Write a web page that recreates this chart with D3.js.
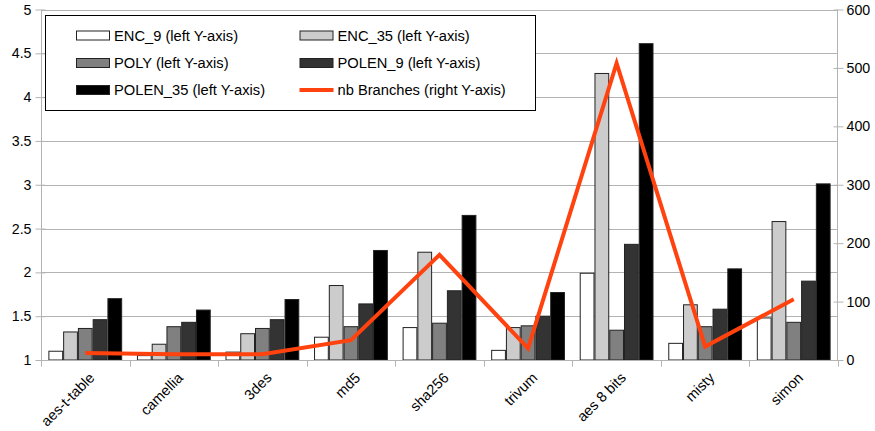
<!DOCTYPE html>
<html>
<head>
<meta charset="utf-8">
<script src="https://cdn.jsdelivr.net/npm/d3@7/dist/d3.min.js"></script>
<style>
  html, body { margin: 0; padding: 0; background: #fff; }
  svg { display: block; font-family: "Liberation Sans", Arial, sans-serif; }
</style>
</head>
<body>
<svg id="chart" width="875" height="431"></svg>
<script>
const categories = ["aes-t-table", "camellia", "3des", "md5", "sha256", "trivum", "aes 8 bits", "misty", "simon"];
const seriesNames = ["ENC_9 (left Y-axis)", "ENC_35 (left Y-axis)", "POLY (left Y-axis)", "POLEN_9 (left Y-axis)", "POLEN_35 (left Y-axis)"];
const enc9    = [1.10, 1.05, 1.09, 1.26, 1.37, 1.11, 1.99, 1.19, 1.48];
const enc35   = [1.32, 1.18, 1.30, 1.85, 2.23, 1.37, 4.27, 1.63, 2.58];
const poly    = [1.36, 1.38, 1.36, 1.38, 1.42, 1.39, 1.34, 1.38, 1.43];
const polen9  = [1.46, 1.43, 1.46, 1.64, 1.79, 1.50, 2.32, 1.58, 1.90];
const polen35 = [1.70, 1.57, 1.69, 2.25, 2.65, 1.77, 4.61, 2.04, 3.01];
const lineName = "nb Branches (right Y-axis)";
const nbBranches = [12, 10, 10, 34, 180, 20, 508, 23, 104];
const leftTicks = [1, 1.5, 2, 2.5, 3, 3.5, 4, 4.5, 5];
const rightTicks = [0, 100, 200, 300, 400, 500, 600];

const seriesValues = [enc9, enc35, poly, polen9, polen35];
const fills = ["#ffffff", "#cccccc", "#808080", "#333333", "#000000"];
const lineColor = "#ff420e";

const svg = d3.select("#chart");
const X0 = 41, X1 = 838, YT = 9.5, YB = 360;

const x = d3.scaleBand().domain(categories).range([X0, X1]).paddingInner(0).paddingOuter(0);
const xs = d3.scaleBand().domain(d3.range(seriesNames.length)).range([0, x.bandwidth()]).paddingInner(0).paddingOuter(0.5);
const yL = d3.scaleLinear().domain([1, 5]).range([YB, YT]);
const yR = d3.scaleLinear().domain([0, 600]).range([YB, YT]);

// gridlines
svg.append("g").selectAll("line").data(leftTicks).join("line")
  .attr("x1", X0).attr("x2", X1)
  .attr("y1", d => Math.round(yL(d)) + 0.5).attr("y2", d => Math.round(yL(d)) + 0.5)
  .attr("stroke", "#b3b3b3").attr("stroke-width", 1);

// bars
const groups = svg.append("g").selectAll("g").data(categories).join("g")
  .attr("transform", d => `translate(${x(d)},0)`);
groups.selectAll("rect").data((c, i) => seriesValues.map((s, k) => ({ k, v: s[i] }))).join("rect")
  .attr("x", d => xs(d.k) + 0.5)
  .attr("width", xs.bandwidth() - 1)
  .attr("y", d => yL(d.v))
  .attr("height", d => YB - yL(d.v))
  .attr("fill", d => fills[d.k])
  .attr("stroke", "#222")
  .attr("stroke-width", 1);

// left axis
const gL = svg.append("g").attr("transform", `translate(${X0 + 0.5},0)`)
  .call(d3.axisLeft(yL).tickValues(leftTicks).tickSize(6).tickPadding(4).tickFormat(d3.format("")));
gL.select(".domain").attr("stroke", "#b3b3b3").attr("d", `M0,${YT}V${YB + 6}`);
gL.selectAll(".tick line").attr("stroke", "#b3b3b3").attr("x2", -6).attr("x1", 4);
gL.selectAll(".tick text").attr("font-size", 14.2).attr("fill", "#000").attr("font-family", "Liberation Sans, Arial, sans-serif");

// right axis
const gR = svg.append("g").attr("transform", `translate(${X1 - 0.5},0)`)
  .call(d3.axisRight(yR).tickValues(rightTicks).tickSize(6).tickPadding(3));
gR.select(".domain").attr("stroke", "#b3b3b3").attr("d", `M0,${YT}V${YB}`);
gR.selectAll(".tick line").attr("stroke", "#b3b3b3").attr("x1", -4).attr("x2", 6);
gR.selectAll(".tick text").attr("font-size", 14.2).attr("fill", "#000").attr("font-family", "Liberation Sans, Arial, sans-serif");

// bottom axis
const gB = svg.append("g").attr("transform", `translate(0,${YB + 0.5})`);
gB.append("line").attr("x1", X0).attr("x2", X1).attr("stroke", "#b3b3b3");
const boundaries = categories.map(c => x(c)).concat([X1]);
gB.selectAll("line.tk").data(boundaries).join("line").attr("class", "tk")
  .attr("x1", d => Math.round(d) + 0.5).attr("x2", d => Math.round(d) + 0.5)
  .attr("y1", 0).attr("y2", 6).attr("stroke", "#b3b3b3");
gB.selectAll("text").data(categories).join("text")
  .attr("transform", d => `translate(${x(d) + x.bandwidth() / 2 + 3},${11}) rotate(-45)`)
  .attr("text-anchor", "end")
  .attr("dy", "0.7em")
  .attr("font-size", 14.5)
  .attr("fill", "#000")
  .text(d => d);

// line
const line = d3.line().x((d, i) => x(categories[i]) + x.bandwidth() / 2).y(d => yR(d));
svg.append("path").datum(nbBranches)
  .attr("d", line).attr("fill", "none")
  .attr("stroke", lineColor).attr("stroke-width", 4).attr("stroke-linejoin", "miter");

// legend
const lg = svg.append("g");
lg.append("rect").attr("x", 45.5).attr("y", 15.5).attr("width", 490).attr("height", 95)
  .attr("fill", "#fff").attr("stroke", "#000").attr("stroke-width", 1);
const legendItems = seriesNames.map((n, k) => ({ name: n, type: "bar", k })).concat([{ name: lineName, type: "line" }]);
const colX = [76, 299.5];
const rowY = [35.5, 63, 90];
legendItems.forEach((it, i) => {
  const cx = colX[i % 2], cy = rowY[Math.floor(i / 2)];
  if (it.type === "bar") {
    lg.append("rect").attr("x", cx + 0.5).attr("y", cy - 4.5).attr("width", 33).attr("height", 9)
      .attr("fill", fills[it.k]).attr("stroke", "#222");
  } else {
    lg.append("line").attr("x1", cx).attr("x2", cx + 34).attr("y1", cy).attr("y2", cy)
      .attr("stroke", lineColor).attr("stroke-width", 4);
  }
  lg.append("text").attr("x", cx + 38).attr("y", cy).attr("dy", "0.36em")
    .attr("font-size", 14.7).attr("fill", "#000").text(it.name);
});
</script>
</body>
</html>
